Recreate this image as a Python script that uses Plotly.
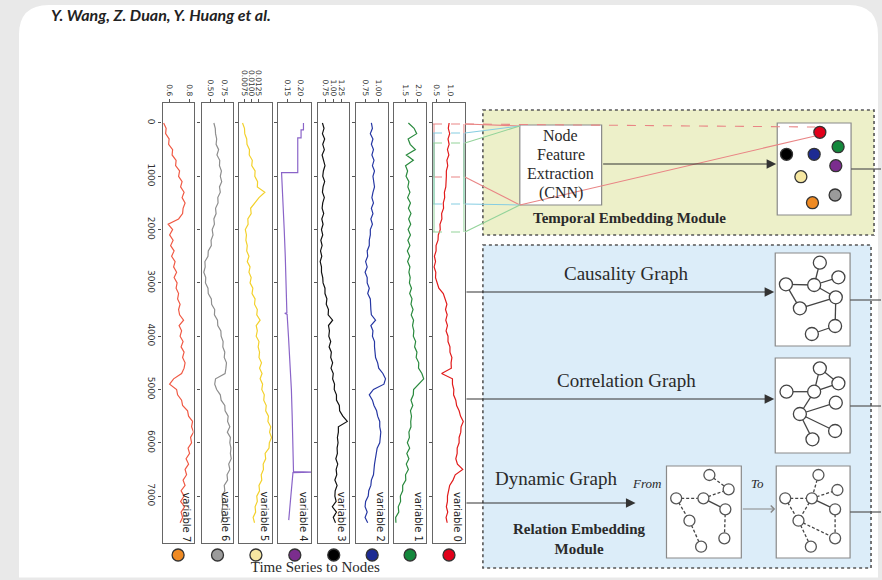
import plotly.graph_objects as go

W, H = 882, 580

# ---------------- time series shown in the vertical strips ----------------
T = list(range(0, 7501, 100))

VAR7 = [0.54, 0.565, 0.56, 0.595, 0.59, 0.63, 0.625, 0.665, 0.66, 0.70,
        0.69, 0.725, 0.71, 0.745, 0.725, 0.755, 0.735, 0.73, 0.69, 0.585,
        0.63, 0.60, 0.635, 0.61, 0.645, 0.62, 0.655, 0.64, 0.67, 0.645,
        0.675, 0.665, 0.69, 0.68, 0.705, 0.69, 0.70, 0.74, 0.695, 0.72,
        0.705, 0.735, 0.715, 0.745, 0.73, 0.755, 0.745, 0.72, 0.64, 0.60,
        0.67, 0.68, 0.72, 0.73, 0.78, 0.79, 0.83, 0.82, 0.84, 0.81,
        0.82, 0.785, 0.80, 0.765, 0.79, 0.755, 0.77, 0.735, 0.755, 0.715,
        0.745, 0.71, 0.75, 0.715, 0.73, 0.705]

VAR6 = [0.56, 0.585, 0.59, 0.61, 0.60, 0.645, 0.615, 0.665, 0.66, 0.695,
        0.675, 0.70, 0.66, 0.675, 0.63, 0.635, 0.59, 0.60, 0.56, 0.57,
        0.53, 0.545, 0.51, 0.515, 0.46, 0.455, 0.40, 0.405, 0.38, 0.415,
        0.41, 0.455, 0.46, 0.515, 0.52, 0.575, 0.57, 0.625, 0.63, 0.685,
        0.69, 0.725, 0.72, 0.755, 0.745, 0.785, 0.775, 0.76, 0.59, 0.575,
        0.61, 0.675, 0.69, 0.755, 0.76, 0.815, 0.805, 0.845, 0.80, 0.855,
        0.845, 0.865, 0.855, 0.87, 0.825, 0.845, 0.795, 0.805, 0.745, 0.755,
        0.705, 0.72, 0.715, 0.70, 0.72, 0.69]

VAR5 = [0.0068, 0.0075, 0.0076, 0.0083, 0.0084, 0.0093, 0.0092, 0.0103, 0.0101, 0.0113,
        0.0112, 0.0122, 0.0121, 0.0148, 0.0127, 0.0113, 0.0097, 0.0099, 0.0087, 0.0088,
        0.0078, 0.0082, 0.0080, 0.0085, 0.0083, 0.0091, 0.0085, 0.0095, 0.0091, 0.0099,
        0.0095, 0.0105, 0.0102, 0.0113, 0.0111, 0.0121, 0.0119, 0.0131, 0.0117, 0.0121,
        0.0117, 0.0127, 0.0124, 0.0129, 0.0127, 0.0136, 0.0129, 0.0138, 0.0131, 0.0140,
        0.0137, 0.0146, 0.0144, 0.0153, 0.0151, 0.0161, 0.0159, 0.0169, 0.0165, 0.0172,
        0.0164, 0.0163, 0.0149, 0.0151, 0.0142, 0.0143, 0.0135, 0.0137, 0.0127, 0.0129,
        0.0119, 0.0121, 0.0113, 0.0115, 0.0106, 0.0111]

# variable 4 is a step-like signal, so it keeps its own time stamps
VAR4_T = [0, 130, 130, 280, 280, 930, 930, 1500, 2000, 2500, 3000, 3500, 3560,
          3570, 3590, 4000, 4500, 5000, 5500, 6000, 6540, 6550, 6560, 7000, 7450]
VAR4 = [0.2115, 0.2115, 0.2025, 0.2025, 0.190, 0.190, 0.129, 0.133, 0.139, 0.143,
        0.146, 0.149, 0.149, 0.141, 0.150, 0.155, 0.161, 0.166, 0.169, 0.172,
        0.174, 0.245, 0.172, 0.164, 0.156]

VAR3 = [0.66, 0.71, 0.66, 0.73, 0.67, 0.72, 0.65, 0.70, 0.74, 0.69,
        0.67, 0.73, 0.68, 0.66, 0.72, 0.67, 0.65, 0.70, 0.64, 0.68,
        0.63, 0.67, 0.61, 0.65, 0.60, 0.64, 0.59, 0.63, 0.63, 0.67,
        0.68, 0.74, 0.74, 0.80, 0.78, 0.85, 0.84, 0.98, 0.85, 0.88,
        0.86, 0.92, 0.87, 0.94, 0.92, 0.98, 0.93, 1.00, 0.98, 1.04,
        1.03, 1.10, 1.10, 1.19, 1.20, 1.30, 1.44, 1.16, 1.16, 1.13,
        1.15, 1.12, 1.13, 1.08, 1.14, 1.09, 1.11, 1.05, 1.12, 1.06,
        1.05, 1.09, 0.97, 1.10, 1.00, 1.07]

VAR2 = [0.87, 0.89, 0.85, 0.90, 0.87, 0.91, 0.88, 0.92, 0.89, 0.93,
        0.90, 0.91, 0.93, 0.90, 0.88, 0.91, 0.87, 0.90, 0.86, 0.89,
        0.85, 0.85, 0.83, 0.83, 0.79, 0.80, 0.76, 0.79, 0.75, 0.79,
        0.79, 0.83, 0.80, 0.85, 0.85, 0.86, 0.87, 0.95, 0.86, 0.90,
        0.89, 0.93, 0.93, 0.94, 0.95, 0.99, 1.01, 1.09, 1.14, 1.11,
        0.91, 0.83, 0.89, 0.92, 0.97, 0.99, 1.03, 1.03, 1.05, 1.04,
        1.03, 0.98, 0.96, 0.95, 0.93, 0.92, 0.91, 0.87, 0.86, 0.82,
        0.81, 0.76, 0.75, 0.79, 0.75, 0.80]

VAR1 = [1.63, 1.85, 1.95, 1.62, 1.70, 1.90, 1.55, 1.82, 1.52, 1.60,
        1.54, 1.65, 1.61, 1.69, 1.60, 1.71, 1.63, 1.73, 1.64, 1.72,
        1.62, 1.71, 1.61, 1.69, 1.59, 1.68, 1.60, 1.69, 1.65, 1.70,
        1.67, 1.75, 1.68, 1.77, 1.73, 1.81, 1.74, 1.83, 1.79, 1.84,
        1.82, 1.91, 1.87, 1.96, 1.93, 2.03, 2.02, 2.15, 2.22, 2.02,
        1.83, 1.82, 1.73, 1.80, 1.71, 1.75, 1.72, 1.73, 1.65, 1.67,
        1.59, 1.68, 1.57, 1.65, 1.55, 1.63, 1.52, 1.53, 1.41, 1.41,
        1.32, 1.33, 1.24, 1.26, 1.14, 1.15]

VAR0 = [0.97, 0.94, 0.99, 0.93, 0.97, 0.91, 0.96, 0.89, 0.92, 0.87,
        0.87, 0.85, 0.85, 0.80, 0.81, 0.76, 0.77, 0.70, 0.71, 0.64,
        0.65, 0.58, 0.57, 0.50, 0.50, 0.44, 0.48, 0.43, 0.49, 0.48,
        0.53, 0.60, 0.76, 0.83, 0.89, 0.84, 0.90, 0.85, 0.91, 0.86,
        0.93, 0.93, 1.00, 1.00, 1.07, 1.04, 1.05, 0.70, 1.09, 1.09,
        1.14, 1.13, 1.21, 1.24, 1.33, 1.38, 1.48, 1.40, 1.39, 1.33,
        1.33, 1.26, 1.26, 1.21, 1.27, 1.46, 1.19, 1.11, 0.99, 0.95,
        0.91, 0.91, 0.87, 0.92, 0.86, 0.90]

NAMES = ["variable 7", "variable 6", "variable 5", "variable 4",
         "variable 3", "variable 2", "variable 1", "variable 0"]
TIMES = [T, T, T, VAR4_T, T, T, T, T]
VALUES = [VAR7, VAR6, VAR5, VAR4, VAR3, VAR2, VAR1, VAR0]
LINE_COLORS = ["#f05a45", "#8e8e8e", "#f3d12c", "#8a64c8",
               "#111111", "#2637a3", "#2a8a3e", "#e11b1b"]
NODE_COLORS = ["#ef8a23", "#9b9b9b", "#f6e7a1", "#7b2d8e",
               "#000000", "#1d2b93", "#14883c", "#e1001a"]
X_TICKS = [[0.6, 0.8], [0.50, 0.75], [0.0075, 0.0100, 0.0125], [0.15, 0.20],
           [0.75, 1.00, 1.25], [0.75, 1.00], [1.5, 2.0], [0.5, 1.0]]
X_TICK_TEXT = [["0.6", "0.8"], ["0.50", "0.75"], ["0.0075", "0.0100", "0.0125"],
               ["0.15", "0.20"], ["0.75", "1.00", "1.25"], ["0.75", "1.00"],
               ["1.5", "2.0"], ["0.5", "1.0"]]
T_TICKS = [0, 1000, 2000, 3000, 4000, 5000, 6000, 7000]

# strip geometry (pixels) and value ranges of each strip
PANEL_X = [(162, 193), (201, 233), (239, 272), (278, 311),
           (318, 349), (356, 388), (394, 426), (433, 465)]
PANEL_TOP, PANEL_BOTTOM = 103, 543
X_RANGES = [[0.53, 0.84], [0.34, 0.91], [0.0057, 0.0175], [0.117, 0.241],
            [0.53, 1.50], [0.58, 1.19], [1.08, 2.31], [0.39, 1.54]]
T_RANGE = [7880, -375]

SERIF = "Liberation Serif"
INK = "#2a2a2a"

fig = go.Figure()
layout = dict(
    width=W, height=H, margin=dict(l=0, r=0, t=0, b=0),
    paper_bgcolor="#e9e9e9", plot_bgcolor="rgba(0,0,0,0)",
    showlegend=False,
    xaxis=dict(domain=[0, 1], range=[0, W], visible=False, fixedrange=True),
    yaxis=dict(domain=[0, 1], range=[H, 0], visible=False, fixedrange=True),
)

for i in range(8):
    k = i + 2
    left, right = PANEL_X[i]
    layout[f"xaxis{k}"] = dict(
        domain=[left / W, right / W], anchor=f"y{k}", side="top",
        range=X_RANGES[i], tickvals=X_TICKS[i], ticktext=X_TICK_TEXT[i],
        tickangle=90, ticks="outside", ticklen=3, tickcolor="#555",
        tickfont=dict(family="DejaVu Sans", size=7.5, color="#333"),
        showline=True, mirror=True, linecolor="#666", linewidth=1.3,
        showgrid=False, zeroline=False, fixedrange=True)
    layout[f"yaxis{k}"] = dict(
        domain=[1 - PANEL_BOTTOM / H, 1 - PANEL_TOP / H], anchor=f"x{k}",
        range=T_RANGE, tickvals=T_TICKS, ticks="outside", ticklen=3,
        tickcolor="#555", showticklabels=(i == 0), tickangle=90,
        tickfont=dict(family="DejaVu Sans", size=9, color="#333"),
        showline=True, mirror=True, linecolor="#666", linewidth=1.3,
        showgrid=False, zeroline=False, fixedrange=True)

fig.update_layout(**layout)

# ---------------- page card ----------------
card = "M 18 580 L 18 35 Q 18 5 48 5 L 850 5 Q 879 5 879 35 L 879 580 Z"
fig.add_shape(type="path", path=card, xref="x", yref="y",
              fillcolor="white", line=dict(width=0), layer="below")

# module backgrounds
fig.add_shape(type="rect", x0=483, y0=110, x1=875, y1=235, xref="x", yref="y",
              fillcolor="#edf0c9", line=dict(color="#555", width=1.6, dash="dot"),
              layer="below")
fig.add_shape(type="rect", x0=483, y0=245, x1=872, y1=568, xref="x", yref="y",
              fillcolor="#dcedf9", line=dict(color="#555", width=1.6, dash="dot"),
              layer="below")

# white boxes
BOXES = {
    "cnn": (520, 125, 602, 205),
    "nodes": (778, 123, 852, 215),
    "causal": (776, 253, 851, 346),
    "corr": (776, 358, 851, 453),
    "from": (667, 466, 742, 558),
    "to": (777, 466, 851, 558),
}
for name, (x0, y0, x1, y1) in BOXES.items():
    fig.add_shape(type="rect", x0=x0, y0=y0, x1=x1, y1=y1, xref="x", yref="y",
                  fillcolor="white", line=dict(color="#8a8a8a", width=1.2),
                  layer="below")

# plain connector lines leaving the boxes
for (x0, y0, x1, y1) in [(852, 169, 882, 169), (851, 300, 882, 300),
                         (851, 406, 882, 406), (851, 512, 882, 512)]:
    fig.add_shape(type="line", x0=x0, y0=y0, x1=x1, y1=y1, xref="x", yref="y",
                  line=dict(color="#555", width=1.2), layer="below")

# window markers on variable 0 and their links into the CNN block
PINK, CYAN, MINT = "#e98585", "#86cde2", "#93d39a"
WINDOWS = [(124, 177, PINK), (133, 204, CYAN), (143, 232, MINT)]
for (ya, yb, c) in WINDOWS:
    for yy in (ya, yb):
        fig.add_shape(type="line", x0=433, y0=yy, x1=465, y1=yy, xref="x",
                      yref="y", line=dict(color=c, width=1.1, dash="dash"),
                      layer="above")
    for xx in (434, 464):
        fig.add_shape(type="line", x0=xx, y0=ya, x1=xx, y1=yb, xref="x",
                      yref="y", line=dict(color=c, width=1.0), layer="above")
    fig.add_shape(type="line", x0=465, y0=ya, x1=520, y1=126, xref="x",
                  yref="y", line=dict(color=c, width=1.1), layer="above")
    fig.add_shape(type="line", x0=465, y0=yb, x1=520, y1=205, xref="x",
                  yref="y", line=dict(color=c, width=1.1), layer="above")
fig.add_shape(type="line", x0=465, y0=124, x1=816, y1=127, xref="x", yref="y",
              line=dict(color=PINK, width=1.1, dash="dash"), layer="above")
fig.add_shape(type="line", x0=520, y0=205, x1=816, y1=136, xref="x", yref="y",
              line=dict(color=PINK, width=1.1), layer="above")


def arrow(x0, y0, x1, y1, color="#333", head=2, size=1.6, width=1.2):
    fig.add_annotation(x=x1, y=y1, ax=x0, ay=y0, xref="x", yref="y",
                       axref="x", ayref="y", text="", showarrow=True,
                       arrowhead=head, arrowsize=size, arrowwidth=width,
                       arrowcolor=color)


arrow(602, 164, 777, 164)
arrow(465, 292, 775, 292)
arrow(465, 399, 775, 399)
arrow(465, 503, 636, 503)
arrow(742, 509, 776, 509, color="#888", head=4, size=1.2, width=1.1)

# ---------------- node graphs ----------------
TEMPORAL_NODES = [(42.7, 9.3), (61, 23.7), (9.3, 31.3), (37, 31.3),
                  (58.7, 42.7), (23.7, 53.7), (58, 72), (35.3, 79.7)]
TEMPORAL_COLORS = ["#e1001a", "#14883c", "#000000", "#1d2b93",
                   "#7b2d8e", "#f6e7a1", "#9b9b9b", "#ef8a23"]

CAUSAL_NODES = [(44.7, 9.7), (63.3, 24.3), (10.7, 31.3), (39, 32),
                (60.7, 44.3), (24.7, 55.3), (60, 73), (36.7, 81)]
CAUSAL_EDGES = [(0, 3), (3, 1), (2, 3), (3, 4), (2, 5), (5, 4), (4, 6), (6, 7)]

CORR_NODES = [(44.7, 10.3), (63.3, 25.3), (11.3, 33.7), (39, 33.7),
              (60.7, 44.7), (24.7, 56), (60, 73), (37.3, 81.3)]
CORR_EDGES = [(0, 1), (0, 3), (3, 1), (2, 3), (3, 5), (5, 4), (5, 6), (5, 7)]

FROM_NODES = [(43, 9), (62.3, 23.3), (9.7, 32.3), (37, 32.3),
              (59, 43.3), (23, 54.7), (58, 72.3), (34.7, 80.7)]
FROM_SOLID = [(3, 4)]
FROM_DASHED = [(0, 1), (2, 3), (3, 1), (2, 5), (5, 7), (4, 6)]

TO_NODES = [(42.3, 9), (61.3, 24), (9, 32.3), (35.7, 32.3),
            (59, 43.3), (22.3, 54.7), (59, 72.3), (34.7, 80.7)]
TO_SOLID = [(3, 4)]
TO_DASHED = [(0, 3), (3, 1), (2, 3), (2, 5), (3, 5), (5, 6), (5, 7), (4, 6)]


def place(box, nodes):
    x0, y0 = BOXES[box][0], BOXES[box][1]
    return [x0 + nx for nx, ny in nodes], [y0 + ny for nx, ny in nodes]


def edges_trace(xs, ys, edges, dash="solid", color="#444"):
    ex, ey = [], []
    for a, b in edges:
        ex += [xs[a], xs[b], None]
        ey += [ys[a], ys[b], None]
    fig.add_trace(go.Scatter(x=ex, y=ey, mode="lines", hoverinfo="skip",
                             line=dict(color=color, width=1.3, dash=dash)))


def nodes_trace(xs, ys, fill, size=12, outline="#444"):
    fig.add_trace(go.Scatter(x=xs, y=ys, mode="markers", hoverinfo="skip",
                             marker=dict(size=size, color=fill,
                                         line=dict(color=outline, width=1.3))))


tx, ty = place("nodes", TEMPORAL_NODES)
nodes_trace(tx, ty, TEMPORAL_COLORS, size=12, outline="#333")

cx, cy = place("causal", CAUSAL_NODES)
edges_trace(cx, cy, CAUSAL_EDGES)
nodes_trace(cx, cy, "white", size=13)

rx, ry = place("corr", CORR_NODES)
edges_trace(rx, ry, CORR_EDGES)
nodes_trace(rx, ry, "white", size=13)

fx, fy = place("from", FROM_NODES)
edges_trace(fx, fy, FROM_SOLID)
edges_trace(fx, fy, FROM_DASHED, dash="3px,2px")
nodes_trace(fx, fy, "white", size=11, outline="#555")

ox, oy = place("to", TO_NODES)
edges_trace(ox, oy, TO_SOLID)
edges_trace(ox, oy, TO_DASHED, dash="3px,2px")
nodes_trace(ox, oy, "white", size=11, outline="#555")

# node markers below each strip
centers = [(l + r) / 2 for l, r in PANEL_X]
nodes_trace(centers, [555] * 8, NODE_COLORS, size=12, outline="#333")

# strip caption along the lower page edge
fig.add_trace(go.Scatter(x=[315], y=[568.5], mode="text", text=["Time Series to Nodes"],
                         textfont=dict(family=SERIF, size=15, color=INK),
                         hoverinfo="skip"))

# ---------------- the eight time-series strips ----------------
for i in range(8):
    k = i + 2
    fig.add_trace(go.Scatter(x=VALUES[i], y=TIMES[i], mode="lines",
                             xaxis=f"x{k}", yaxis=f"y{k}", hoverinfo="skip",
                             line=dict(color=LINE_COLORS[i], width=1.2)))
    fig.add_annotation(x=PANEL_X[i][1] - 7, y=517, xref="x", yref="y",
                       text=NAMES[i], showarrow=False, textangle=90,
                       font=dict(family="DejaVu Sans", size=10, color="#222"))

# lower page edge
fig.add_shape(type="rect", x0=0, y0=577.5, x1=W, y1=H, xref="x", yref="y",
              fillcolor="#e9e9e9", line=dict(width=0), layer="above")

# ---------------- text ----------------
def label(x, y, text, size, bold=False, italic=False, family=SERIF,
          anchor="center", color=INK):
    fig.add_annotation(x=x, y=y, xref="x", yref="y", text=text,
                       showarrow=False, xanchor=anchor, yanchor="middle",
                       font=dict(family=family, size=size, color=color,
                                 weight=700 if bold else 400,
                                 style="italic" if italic else "normal"))


label(48, 14, "Y. Wang, Z. Duan, Y. Huang et al.", 16, bold=True, italic=True,
      family="Lato", anchor="left", color="#222")
for text, yy in [("Node", 135), ("Feature", 154), ("Extraction", 173), ("(CNN)", 193)]:
    label(561, yy, text, 16)
label(630, 218, "Temporal Embedding Module", 15, bold=True)
label(627, 273, "Causality Graph", 19)
label(627, 380, "Correlation Graph", 19)
label(556, 478, "Dynamic Graph", 19)
label(647, 483, "From", 13, italic=True)
label(758, 483, "To", 13, italic=True)
label(580, 539, "Relation Embedding<br>Module", 15, bold=True)

fig.write_html("out.html")
